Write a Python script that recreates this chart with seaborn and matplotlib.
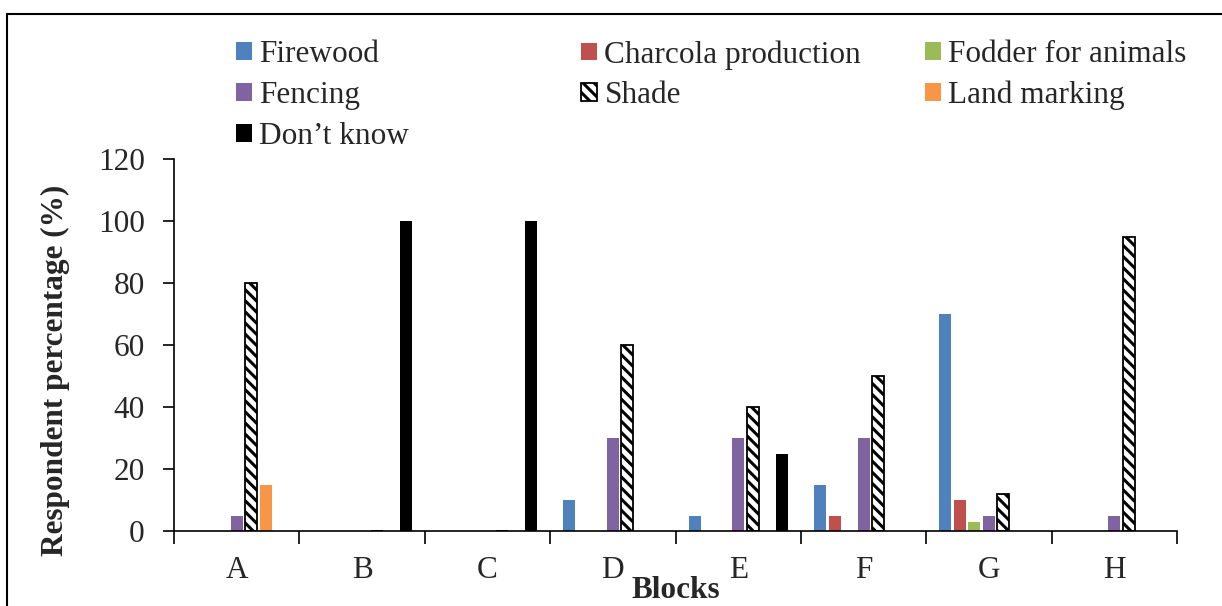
import matplotlib
matplotlib.use("Agg")
import matplotlib.pyplot as plt
import seaborn as sns
import pandas as pd
import numpy as np
from matplotlib.patches import Patch
from matplotlib.lines import Line2D

blocks = ["A", "B", "C", "D", "E", "F", "G", "H"]
series = ["Firewood", "Charcola production", "Fodder for animals", "Fencing",
          "Shade", "Land marking", "Don\u2019t know"]
firewood = [0, 0, 0, 10, 5, 15, 70, 0]
charcoal = [0, 0, 0, 0, 0, 5, 10, 0]
fodder = [0, 0, 0, 0, 0, 0, 3, 0]
fencing = [5, 0, 0, 30, 30, 30, 5, 5]
shade = [80, 0, 0, 60, 40, 50, 12, 95]
land_marking = [15, 0, 0, 0, 0, 0, 0, 0]
dont_know = [0, 100, 100, 0, 25, 0, 0, 0]
colors = ["#4F81BD", "#C0504D", "#9BBB59", "#8064A2", "#FFFFFF", "#F79646", "#000000"]
yticks = [0, 20, 40, 60, 80, 100, 120]

values = [firewood, charcoal, fodder, fencing, shade, land_marking, dont_know]
rows = []
for s, vals in zip(series, values):
    for b, v in zip(blocks, vals):
        rows.append({"Block": b, "Use": s, "Value": v})
df = pd.DataFrame(rows)

sns.set_theme(style="white")
plt.rcParams["font.family"] = ["Liberation Serif", "DejaVu Serif"]
plt.rcParams["hatch.linewidth"] = 2.2

FS = 22.5
W, H = 1222, 606
fig = plt.figure(figsize=(W / 100, H / 100), dpi=100)
ax = fig.add_axes([174 / W, 1 - 531 / H, (1177 - 174) / W, (531 - 159) / H])

palette = dict(zip(series, colors))
sns.barplot(data=df, x="Block", y="Value", hue="Use", hue_order=series,
            order=blocks, palette=palette, width=0.81, gap=0.17,
            linewidth=0, saturation=1, legend=False, ax=ax)

shade_idx = series.index("Shade")
HATCH = "\\\\\\"
for i, cont in enumerate(ax.containers):
    for bar in cont:
        if i == shade_idx:
            bar.set_facecolor("white")
            bar.set_edgecolor("black")
            bar.set_hatch(HATCH)
            bar.set_linewidth(1.3)

ax.set_xlim(-0.5, len(blocks) - 0.5)
ax.set_ylim(0, 120)
ax.set_yticks(yticks)
ax.set_yticklabels([str(t) for t in yticks], fontsize=FS)
ax.tick_params(axis="y", direction="out", length=8, width=1.2, color="black", pad=13, left=True)

ax.set_xticks(np.arange(-0.5, len(blocks), 1.0))
ax.set_xticklabels([])
ax.set_xticks(np.arange(len(blocks)), minor=True)
ax.set_xticklabels(blocks, minor=True, fontsize=FS)
ax.tick_params(axis="x", which="major", direction="out", length=9, width=1.2, color="black", bottom=True)
ax.tick_params(axis="x", which="minor", length=0, pad=18)

for side in ["top", "right"]:
    ax.spines[side].set_visible(False)
for side in ["left", "bottom"]:
    ax.spines[side].set_color("black")
    ax.spines[side].set_linewidth(1.2)

ax.set_xlabel("Blocks", fontsize=FS, fontweight="bold")
ax.xaxis.set_label_coords(0.5, -0.12)
ax.xaxis.label.set_va("top")
ax.set_ylabel("Respondent percentage (%)", fontsize=FS, fontweight="bold")
ax.yaxis.set_label_coords(-0.104, 0.433)

# Legends (three columns)
def handle(s):
    if s == "Shade":
        return Patch(facecolor="white", edgecolor="black", hatch=HATCH, linewidth=1.3)
    return Patch(facecolor=palette[s], edgecolor="none")

cols = [
    (["Firewood", "Fencing", "Don\u2019t know"], 236),
    (["Charcola production", "Shade"], 581),
    (["Fodder for animals", "Land marking"], 925),
]
for names, xpix in cols:
    leg = fig.legend([handle(n) for n in names], names, loc="upper left",
                     bbox_to_anchor=(xpix / W, 1 - 40 / H), frameon=False,
                     fontsize=FS, handlelength=0.5, handleheight=0.5,
                     handletextpad=0.25, labelspacing=0.38, borderpad=0,
                     borderaxespad=0)

# Outer frame (left and top lines)
fig.add_artist(Line2D([7 / W, 7 / W], [0, 1 - 14 / H], transform=fig.transFigure,
                      color="black", linewidth=1.5))
fig.add_artist(Line2D([7 / W, 1], [1 - 14 / H, 1 - 14 / H], transform=fig.transFigure,
                      color="black", linewidth=1.5))

fig.savefig("out.png", dpi=100)
